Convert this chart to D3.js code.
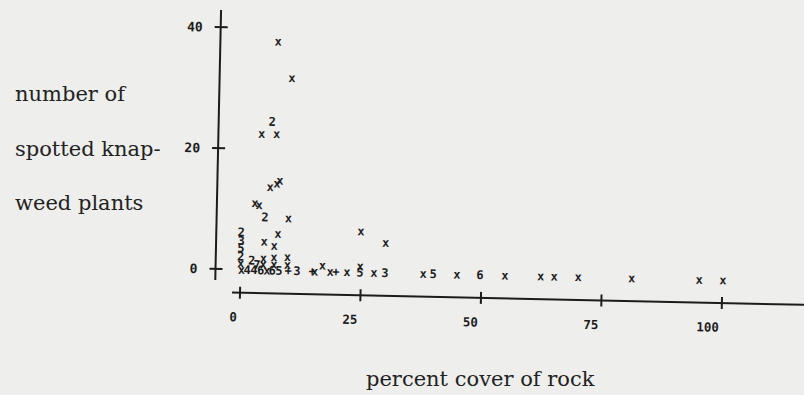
<!DOCTYPE html>
<html>
<head>
<meta charset="utf-8">
<script src="https://cdn.jsdelivr.net/npm/d3@7"></script>
<style>
  html, body { margin: 0; padding: 0; background: #eeeeec; }
  svg { display: block; }
</style>
</head>
<body>
<div id="chart"></div>
<script>
// ---- data ----
const xTicks = [0, 25, 50, 75, 100];
const yTicks = [0, 20, 40];
const xTitle = "percent cover of rock";
const yTitleLines = ["number of", "spotted knap-", "weed plants"];

// plotted characters: "x" = one site, digit = number of coincident sites, "+" = many
const markX = [6.8, 9.8, 5.9, 3.8, 6.9, 7.2, 7.8, 5.8, 2.7, 3.6,
               4.85, 9.7, 0, 7.6, 24.8, 30.0, 4.8, 6.9, 0, 0,
               0, 0, 2.3, 4.7, 6.9, 9.7, 3.4, 4.7, 6.9, 9.7,
               17.0, 24.8, 0.2, 1.4, 2.8, 4.2, 5.5, 6.6, 8.0, 9.9,
               11.7, 14.9, 15.4, 18.6, 19.8, 22.1, 24.8, 27.7, 30.0, 37.9,
               40.0, 44.9, 49.7, 54.9, 62.3, 65.1, 70.1, 81.2, 95.2, 100.1];
const markY = [37.9, 31.9, 24.6, 22.6, 22.6, 14.4, 14.9, 13.8, 11.1, 10.8,
               8.8, 8.7, 6.2, 6.1, 6.8, 5.0, 4.75, 4.1, 4.8, 3.6,
               2.2, 1.1, 1.6, 2.0, 2.2, 2.3, 0.9, 1.0, 1.0, 1.0,
               1.0, 1.0, 0, 0, 0, 0, 0, 0, 0, 0,
               0, 0, 0, 0, 0, 0, 0, 0, 0, 0,
               0, 0, 0, 0, 0, 0, 0, 0, 0, 0];
const markSymbol = ["x", "x", "2", "x", "x", "x", "x", "x", "x", "x",
                    "2", "x", "2", "x", "x", "x", "x", "x", "3", "5",
                    "2", "x", "2", "x", "x", "x", "7", "x", "x", "x",
                    "x", "x", "x", "4", "4", "6", "x", "6", "5", "+",
                    "3", "+", "x", "x", "+", "x", "5", "x", "3", "x",
                    "5", "x", "6", "x", "x", "x", "x", "x", "x", "x"];

// ---- layout ----
const W = 804, H = 395;
const ink = "#1c1c1c";
const mono = "'DejaVu Sans Mono', monospace";
const serif = "'DejaVu Serif', serif";

const svg = d3.select("#chart").append("svg")
  .attr("width", W).attr("height", H);

svg.append("rect").attr("width", W).attr("height", H).attr("fill", "#eeeeec");

const x = d3.scaleLinear().domain([0, 100]).range([240, 722]);
const y = d3.scaleLinear().domain([0, 40]).range([269.5, 27.7]);

const yAxisX = 215;
const xAxisY = 292.7;

// scanned page is slightly rotated
const g = svg.append("g")
  .attr("transform", `rotate(1.23, ${x(0)}, ${xAxisY})`);

// y axis
g.append("line")
  .attr("x1", yAxisX).attr("x2", yAxisX)
  .attr("y1", 10.4).attr("y2", 280.5)
  .attr("stroke", ink).attr("stroke-width", 2);
g.selectAll(".ytick").data(yTicks).join("line")
  .attr("x1", yAxisX - 6).attr("x2", yAxisX + 7)
  .attr("y1", d => y(d)).attr("y2", d => y(d))
  .attr("stroke", ink).attr("stroke-width", 2);
g.selectAll(".ylab").data(yTicks).join("text")
  .attr("x", yAxisX - 18).attr("y", d => y(d) + 4.7)
  .attr("text-anchor", "end")
  .attr("font-family", mono).attr("font-size", 13)
  .attr("font-weight", "bold")
  .attr("fill", ink)
  .text(d => d);

// x axis
g.append("line")
  .attr("x1", 232).attr("x2", 840)
  .attr("y1", xAxisY).attr("y2", xAxisY)
  .attr("stroke", ink).attr("stroke-width", 2);
g.selectAll(".xtick").data(xTicks).join("line")
  .attr("x1", d => x(d)).attr("x2", d => x(d))
  .attr("y1", xAxisY - 6).attr("y2", xAxisY + 6)
  .attr("stroke", ink).attr("stroke-width", 2);
g.selectAll(".xlab").data(xTicks).join("text")
  .attr("x", d => x(d) - 2.5).attr("y", 321.5)
  .attr("text-anchor", "end")
  .attr("font-family", mono).attr("font-size", 12.5)
  .attr("font-weight", "bold")
  .attr("fill", ink)
  .text(d => d);

// plotted characters
const marks = markX.map((v, i) => ({ x: v, y: markY[i], s: markSymbol[i] }));
g.selectAll(".mark").data(marks).join("text")
  .attr("x", d => x(d.x)).attr("y", d => y(d.y) + 4.4)
  .attr("text-anchor", "middle")
  .attr("font-family", mono).attr("font-size", 12)
  .attr("font-weight", "bold")
  .attr("fill", ink)
  .text(d => d.s);

// axis titles (typeset text, not rotated)
svg.selectAll(".ytitle").data(yTitleLines).join("text")
  .attr("x", 15).attr("y", (d, i) => [101, 156, 210][i])
  .attr("font-family", serif).attr("font-size", 21)
  .attr("fill", "#222")
  .text(d => d);

svg.append("text")
  .attr("x", 366).attr("y", 386)
  .attr("font-family", serif).attr("font-size", 21)
  .attr("fill", "#222")
  .text(xTitle);
</script>
</body>
</html>
